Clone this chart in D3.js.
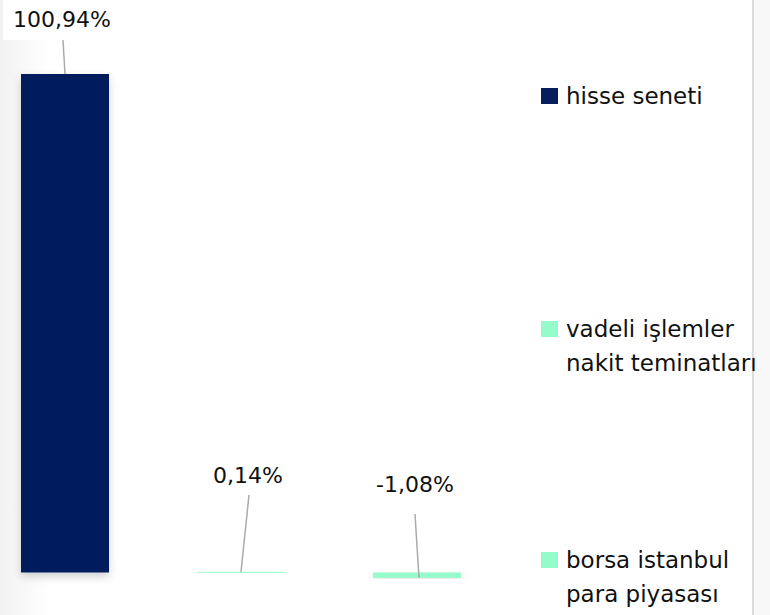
<!DOCTYPE html>
<html>
<head>
<meta charset="utf-8">
<script src="https://cdn.jsdelivr.net/npm/d3@7"></script>
<style>
  html, body { margin: 0; padding: 0; background: #fff; }
  svg { display: block; font-family: "DejaVu Sans", "Noto Sans", sans-serif; }
</style>
</head>
<body>
<div id="chart"></div>
<script>
// chart data
const categories = ['hisse seneti', 'vadeli işlemler nakit teminatları', 'borsa istanbul para piyasası'];
const values = [100.94, 0.14, -1.08];
const valueLabels = ['100,94%', '0,14%', '-1,08%'];
const legendLines = [['hisse seneti'], ['vadeli işlemler', 'nakit teminatları'], ['borsa istanbul', 'para piyasası']];
const colors = ['#061f5c', '#96fbca', '#96fbca'];

const config = {
  width: 770,
  height: 615,
  margin: {top: 74, bottom: 42, left: 21},
  plotRight: 461,
  // label anchor offsets relative to bar centre (leader line layout)
  labelPos: [{dx: -3, y: 27, lineTop: 40, lineDx: -2}, {dx: 7, y: 483, lineTop: 495, lineDx: 8}, {dx: -2, y: 492, lineTop: 514, lineDx: -2}]
};

const svg = d3.select('#chart').append('svg')
  .attr('width', config.width)
  .attr('height', config.height);

// background decorations
const defs = svg.append('defs');
const grad = defs.append('linearGradient').attr('id', 'leftFade');
grad.append('stop').attr('offset', '0%').attr('stop-color', '#f2f2f2');
grad.append('stop').attr('offset', '100%').attr('stop-color', '#ffffff');
const shadow = defs.append('filter').attr('id', 'barShadow')
  .attr('x', '-20%').attr('y', '-20%').attr('width', '140%').attr('height', '140%');
shadow.append('feDropShadow')
  .attr('dx', 0).attr('dy', 4).attr('stdDeviation', 4)
  .attr('flood-color', '#000').attr('flood-opacity', 0.18);

svg.append('rect').attr('x', 0).attr('y', 0).attr('width', 50).attr('height', config.height)
  .attr('fill', 'url(#leftFade)');
svg.append('rect').attr('x', 753).attr('y', 0).attr('width', 17).attr('height', config.height)
  .attr('fill', '#f8f8f8');
svg.append('line').attr('x1', 753).attr('x2', 753).attr('y1', 0).attr('y2', config.height)
  .attr('stroke', '#dcdcdc').attr('stroke-width', 2);

// scales
const xScale = d3.scaleBand()
  .domain(categories)
  .range([config.margin.left, config.plotRight])
  .paddingInner(0.5)
  .paddingOuter(0);

const yScale = d3.scaleLinear()
  .domain([0, d3.max(values)])
  .range([572.5, config.margin.top]);

const data = categories.map((c, i) => ({cat: c, value: values[i], label: valueLabels[i], color: colors[i]}));

// bars
svg.append('g').selectAll('.bar')
  .data(data)
  .join('rect')
  .attr('class', 'bar')
  .attr('x', d => xScale(d.cat))
  .attr('width', xScale.bandwidth())
  .attr('y', d => Math.min(yScale(d.value), yScale(0)))
  .attr('height', d => Math.max(1, Math.abs(yScale(d.value) - yScale(0))))
  .attr('fill', d => d.color)
  .attr('filter', (d, i) => i === 1 ? null : 'url(#barShadow)');

// value labels with leader lines
const labels = svg.append('g');
data.forEach((d, i) => {
  const p = config.labelPos[i];
  const cx = xScale(d.cat) + xScale.bandwidth() / 2;
  const barEnd = yScale(Math.max(d.value, 0));
  if (i === 0) {
    labels.append('rect')
      .attr('x', 3).attr('y', 0).attr('width', 112).attr('height', 40)
      .attr('fill', '#fff');
  }
  labels.append('line')
    .attr('x1', cx + p.lineDx).attr('y1', p.lineTop)
    .attr('x2', cx + (i === 2 ? 2 : 0)).attr('y2', i === 2 ? yScale(d.value) : barEnd)
    .attr('stroke', '#aaaaaa').attr('stroke-width', 1.5);
  labels.append('text')
    .attr('x', cx + p.dx).attr('y', p.y)
    .attr('text-anchor', 'middle')
    .attr('font-size', 22)
    .attr('fill', '#111')
    .text(d.label);
});

// legend
const legendY = [96, 329, 560];
const legend = svg.append('g');
data.forEach((d, i) => {
  const g = legend.append('g').attr('transform', `translate(541,${legendY[i]})`);
  g.append('rect').attr('x', 0).attr('y', -8).attr('width', 17).attr('height', 16)
    .attr('fill', d.color);
  legendLines[i].forEach((line, j) => {
    g.append('text')
      .attr('x', 25).attr('y', 8 + j * 34)
      .attr('font-size', 23)
      .attr('fill', '#111')
      .text(line);
  });
});
</script>
</body>
</html>
